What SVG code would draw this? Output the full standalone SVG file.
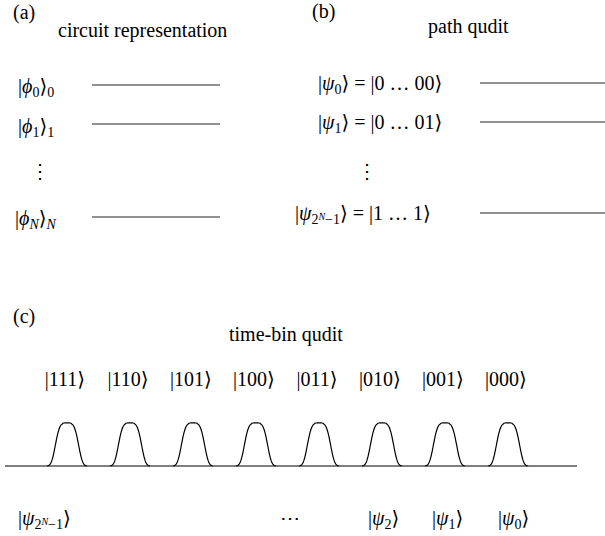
<svg xmlns="http://www.w3.org/2000/svg" xmlns:xlink="http://www.w3.org/1999/xlink" width="605" height="536" viewBox="0 0 605 536">
<style>
text{font-family:"Liberation Serif","DejaVu Serif",serif;font-size:20px;fill:#000}
.i{font-style:italic}
.s{font-size:14px}
.ss{font-size:10px;font-style:italic}
.wire{stroke:#222;stroke-width:1;fill:none}
.pl{stroke:#000;stroke-width:1.2;fill:none}
</style>
<defs>
<path id="pulse" d="M-20,0 L-19,-0.3 -18,-0.7 -17,-1.6 -16,-3.3 -15,-6.1 -14,-9.8 -13,-14.5 -12,-19.8 -11,-25.2 -10,-30.3 -9,-34.7 -8,-38.3 -7,-40.9 -6,-42.7 -4,-44.5 -2,-45 0,-45 2,-45 4,-44.5 6,-42.7 7,-40.9 8,-38.3 9,-34.7 10,-30.3 11,-25.2 12,-19.8 13,-14.5 14,-9.8 15,-6.1 16,-3.3 17,-1.6 18,-0.7 19,-0.3 20,0"/>
</defs>
<g id="panel-a">
<text x="13" y="19">(a)</text>
<text x="58" y="37">circuit representation</text>
<g id="a-q0"><text x="18" y="93">|<tspan class="i">ϕ</tspan><tspan class="s" dy="4">0</tspan><tspan dy="-4">⟩</tspan><tspan class="s" dy="4">0</tspan></text></g>
<g id="a-q1"><text x="18" y="133">|<tspan class="i">ϕ</tspan><tspan class="s" dy="4">1</tspan><tspan dy="-4">⟩</tspan><tspan class="s" dy="4">1</tspan></text></g>
<g id="a-dots"><text x="40" y="178" text-anchor="middle">⋮</text></g>
<g id="a-qN"><text x="15" y="225">|<tspan class="i">ϕ</tspan><tspan class="s i" dy="4">N</tspan><tspan dy="-4">⟩</tspan><tspan class="s i" dy="4">N</tspan></text></g>
</g>
<g id="panel-b">
<text x="312" y="18">(b)</text>
<text x="428" y="33">path qudit</text>
<g id="b-q0"><text x="318" y="90">|<tspan class="i">ψ</tspan><tspan class="s" dy="4">0</tspan><tspan dy="-4">⟩ = |0 … 00⟩</tspan></text></g>
<g id="b-q1"><text x="318" y="129">|<tspan class="i">ψ</tspan><tspan class="s" dy="4">1</tspan><tspan dy="-4">⟩ = |0 … 01⟩</tspan></text></g>
<g id="b-dots"><text x="367" y="178" text-anchor="middle">⋮</text></g>
<g id="b-qN"><text x="295" y="220">|<tspan class="i">ψ</tspan><tspan class="s" dy="4">2</tspan><tspan class="ss" dy="-4">N</tspan><tspan class="s" dy="4">−1</tspan><tspan dy="-4">⟩ = |1 … 1⟩</tspan></text></g>
</g>
<g id="connectors">
<line class="wire" x1="92" y1="85" x2="220" y2="85"/>
<line class="wire" x1="92" y1="124" x2="220" y2="124"/>
<line class="wire" x1="92" y1="217" x2="220" y2="217"/>
<line class="wire" x1="480" y1="83" x2="605" y2="83"/>
<line class="wire" x1="480" y1="122" x2="605" y2="122"/>
<line class="wire" x1="480" y1="213" x2="605" y2="213"/>
</g>
<g id="panel-c">
<text x="13" y="323">(c)</text>
<text x="229" y="341">time-bin qudit</text>
<g id="kets" text-anchor="middle">
<text x="65" y="386">|111⟩</text>
<text x="128" y="386">|110⟩</text>
<text x="191" y="386">|101⟩</text>
<text x="254" y="386">|100⟩</text>
<text x="317" y="386">|011⟩</text>
<text x="380" y="386">|010⟩</text>
<text x="443" y="386">|001⟩</text>
<text x="506" y="386">|000⟩</text>
</g>
<g id="pulse-train">
<line class="pl" x1="5" y1="466" x2="577" y2="466"/>
<use xlink:href="#pulse" class="pl" transform="translate(67,466) scale(1,0.96)"/>
<use xlink:href="#pulse" class="pl" transform="translate(130,466) scale(1,0.96)"/>
<use xlink:href="#pulse" class="pl" transform="translate(193,466) scale(1,0.96)"/>
<use xlink:href="#pulse" class="pl" transform="translate(256,466) scale(1,0.96)"/>
<use xlink:href="#pulse" class="pl" transform="translate(319,466) scale(1,0.96)"/>
<use xlink:href="#pulse" class="pl" transform="translate(382,466) scale(1,0.96)"/>
<use xlink:href="#pulse" class="pl" transform="translate(445,466) scale(1,0.96)"/>
<use xlink:href="#pulse" class="pl" transform="translate(508,466) scale(1,0.96)"/>
</g>
<g id="psi-labels">
<text x="18" y="525">|<tspan class="i">ψ</tspan><tspan class="s" dy="4">2</tspan><tspan class="ss" dy="-4">N</tspan><tspan class="s" dy="4">−1</tspan><tspan dy="-4">⟩</tspan></text>
<text x="290" y="525" text-anchor="middle">⋯</text>
<text x="368" y="525">|<tspan class="i">ψ</tspan><tspan class="s" dy="4">2</tspan><tspan dy="-4">⟩</tspan></text>
<text x="432" y="525">|<tspan class="i">ψ</tspan><tspan class="s" dy="4">1</tspan><tspan dy="-4">⟩</tspan></text>
<text x="498" y="525">|<tspan class="i">ψ</tspan><tspan class="s" dy="4">0</tspan><tspan dy="-4">⟩</tspan></text>
</g>
</g>
</svg>
